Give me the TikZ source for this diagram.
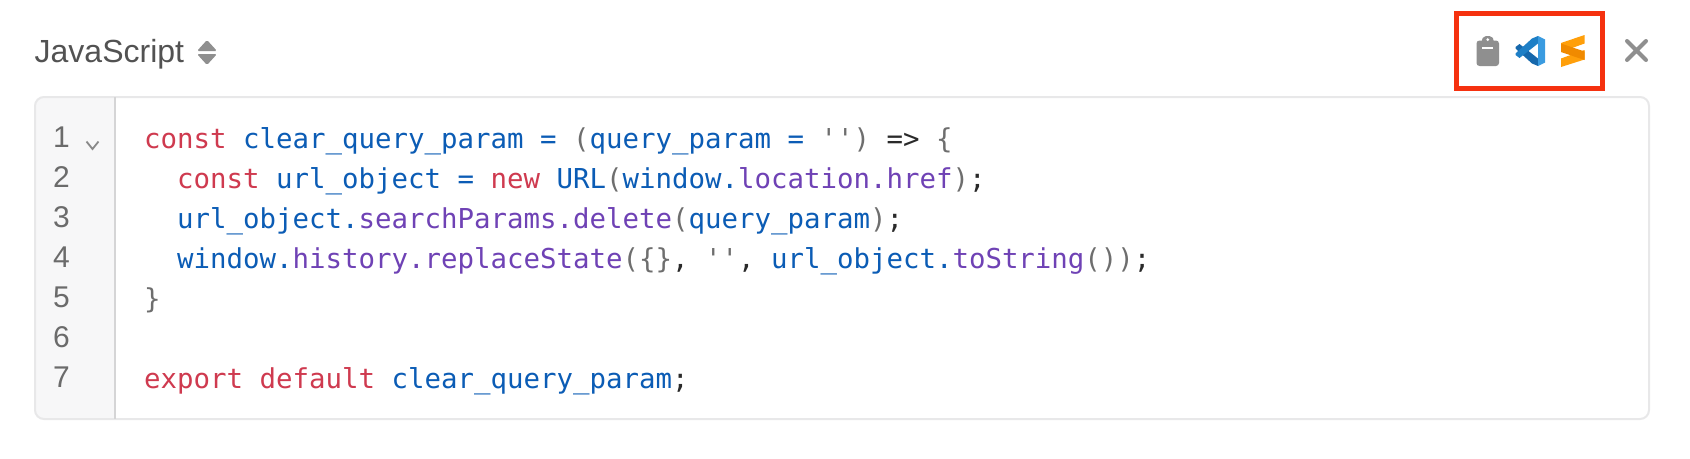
\documentclass[tikz,border=0pt]{standalone}
\usepackage{fontspec}
\setmainfont{Liberation Sans}
\setmonofont{DejaVu Sans Mono}
\definecolor{kw}{HTML}{CF3A4F}
\definecolor{idn}{HTML}{0B5CB5}
\definecolor{prp}{HTML}{6F42B5}
\definecolor{pun}{HTML}{6E6E6E}
\definecolor{dk}{HTML}{2A2A2A}
\definecolor{gut}{HTML}{F7F7F8}
\definecolor{brd}{HTML}{E8E8E9}
\definecolor{gry}{HTML}{8F8F8F}
\definecolor{num}{HTML}{6B6B6B}
\definecolor{redbox}{HTML}{F5310F}
\definecolor{vsa}{HTML}{3A9BE0}
\definecolor{vsb}{HTML}{1E7FC6}
\definecolor{vsc}{HTML}{1668AC}
\definecolor{suba}{HTML}{FF9F0A}
\definecolor{subb}{HTML}{F08A00}
\newcommand{\K}[1]{\textcolor{kw}{#1}}
\newcommand{\I}[1]{\textcolor{idn}{#1}}
\newcommand{\Pp}[1]{\textcolor{prp}{#1}}
\newcommand{\G}[1]{\textcolor{pun}{#1}}
\newcommand{\D}[1]{\textcolor{dk}{#1}}
\begin{document}
\begin{tikzpicture}[x=1pt,y=-1pt,
 codeline/.style={anchor=base west,inner sep=0pt,font=\ttfamily\fontsize{27.4}{32}\selectfont},
 numline/.style={anchor=base,inner sep=0pt,font=\fontsize{30}{34}\selectfont,text=num}]
\useasboundingbox (0,0) rectangle (1690,458);
\fill[white] (0,0) rectangle (1690,458);
% panel
\begin{scope}
\clip[rounded corners=9] (35,97) rectangle (1649,419);
\fill[gut] (35,97) rectangle (115,419);
\end{scope}
\draw[brd,line width=2,rounded corners=9] (35,97) rectangle (1649,419);
\draw[brd!92!black,line width=1.8] (115,97) -- (115,419);
% header
\node[anchor=base west,inner sep=0pt,font=\fontsize{32}{36}\selectfont,text=black!68] (lang) at (34.5,62) {JavaScript};
\fill[gry,rounded corners=1.5] (197,51) -- (207,40) -- (217,51) -- cycle;
\fill[gry,rounded corners=1.5] (197,54) -- (217,54) -- (207,65) -- cycle;
% fold chevron
\draw[num!80,line width=1.8] (86.5,141.5) -- (92.5,149) -- (98.5,141.5);
% line numbers
\node[numline] (n1) at (61.5,147) {1};
\node[numline] (n2) at (61.5,187) {2};
\node[numline] (n3) at (61.5,227) {3};
\node[numline] (n4) at (61.5,267) {4};
\node[numline] (n5) at (61.5,307) {5};
\node[numline] (n6) at (61.5,347) {6};
\node[numline] (n7) at (61.5,387) {7};
% code
\node[codeline] (c1) at (144,148) {\K{const} \I{clear\_query\_param} \I{=} \G{(}\I{query\_param} \I{=} \G{''}\G{)} \D{=>} \G{\{}};
\node[codeline] (c2) at (177,188) {\K{const} \I{url\_object} \I{=} \K{new} \I{URL}\G{(}\I{window.}\Pp{location.href}\G{)}\D{;}};
\node[codeline] (c3) at (177,228) {\I{url\_object.}\Pp{searchParams.delete}\G{(}\I{query\_param}\G{)}\D{;}};
\node[codeline] (c4) at (177,268) {\I{window.}\Pp{history.replaceState}\G{(\{\}}\D{,} \G{''}\D{,} \I{url\_object.}\Pp{toString}\G{())}\D{;}};
\node[codeline] (c5) at (144,308) {\G{\}}};
\node[codeline] (c7) at (144,388) {\K{export} \K{default} \I{clear\_query\_param}\D{;}};
% red frame
\draw[redbox,line width=5] (1456.5,13.5) rectangle (1602.5,88.5);
% clipboard icon
\fill[gry,rounded corners=3] (1476.5,40.5) rectangle (1499,66);
\fill[gry,rounded corners=2] (1481.5,44) -- (1481.5,40) -- (1484,36) -- (1491.5,36) -- (1494,40) -- (1494,44) -- cycle;
\fill[white] (1487.8,39.6) circle (1.5);
\draw[white,line width=1.8] (1482,48) -- (1493,48);
% VS Code icon
\fill[vsc] (1538,66) -- (1538,58.5) -- (1519.5,44) -- (1515.5,47) -- (1515.5,48.5) -- (1532,63.5) -- cycle;
\fill[vsb] (1538,36) -- (1538,43.5) -- (1519.5,58) -- (1515.5,55) -- (1515.5,53.5) -- (1532,38.5) -- cycle;
\fill[vsa] (1538,36) -- (1545,39.5) -- (1545,62.5) -- (1538,66) -- cycle;
% Sublime icon
\fill[suba] (1561,43) -- (1584.5,35) -- (1584.5,43.5) -- (1561,52) -- cycle;
\fill[suba] (1561,58.5) -- (1584.5,50) -- (1584.5,59.5) -- (1561,67) -- cycle;
\fill[subb] (1561,43.5) -- (1584.5,51.5) -- (1584.5,60) -- (1561,52) -- cycle;
% close
\draw[gry,line width=4,line cap=round] (1627,41) -- (1646,60) (1646,41) -- (1627,60);
\end{tikzpicture}
\end{document}
